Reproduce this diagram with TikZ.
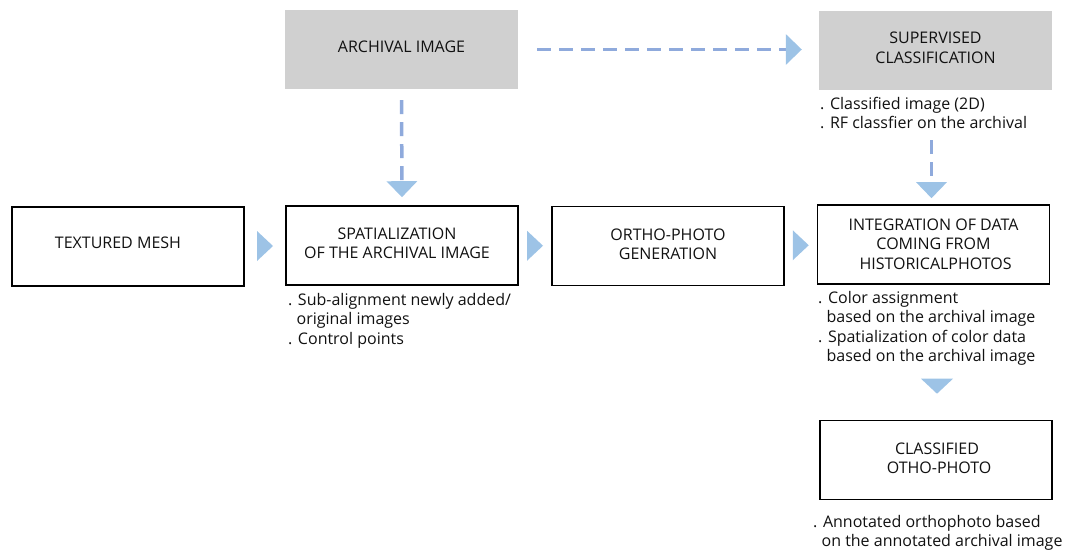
\documentclass[tikz,border=0pt]{standalone}
\usepackage{fontspec}
\setmainfont{Open Sans}
\usetikzlibrary{arrows.meta,calc}
\definecolor{boxgray}{HTML}{D0D0D0}
\definecolor{tipblue}{HTML}{9DC3E6}
\definecolor{dashblue}{HTML}{8FAADC}
\definecolor{txt}{HTML}{111111}
\newcommand{\ind}{\phantom{.\ }}
\begin{document}
\begin{tikzpicture}[x=1pt,y=-1pt,
  every node/.style={font=\fontsize{16}{19.5}\selectfont, text=txt},
  graybox/.style={fill=boxgray, draw=none, minimum width=233pt, minimum height=79pt, inner sep=0pt},
  whitebox/.style={draw=black, line width=1.6pt, fill=white, minimum width=232pt, minimum height=79pt, inner sep=0pt},
  lbl/.style={align=center, inner sep=0pt},
  note/.style={align=left, anchor=north west, inner sep=0pt},
  dashconn/.style={draw=dashblue, line width=3.5pt, dash pattern=on 14pt off 8pt,
    -{Triangle[width=30pt,length=16pt,color=tipblue,fill=tipblue]}},
  tri/.style={fill=tipblue}
]
\useasboundingbox (0,0) rectangle (1066,552);

% boxes
\node[graybox] (archival) at (401.5,49.5) {};
\node[lbl] at (401.5,46.5) {ARCHIVAL IMAGE};
\node[graybox] (supervised) at (935.5,50.5) {};
\node[lbl] at (935.5,48) {SUPERVISED\\CLASSIFICATION};

\node[whitebox] (textured) at (128,246.5) {};
\node[lbl] at (118,242.5) {TEXTURED MESH};
\node[whitebox] (spatial) at (402,245.5) {};
\node[lbl] at (397,243.5) {SPATIALIZATION\\OF THE ARCHIVAL IMAGE};
\node[whitebox] (ortho) at (668,246) {};
\node[lbl] at (668,244.5) {ORTHO-PHOTO\\GENERATION};
\node[whitebox] (integration) at (933.5,244.5) {};
\node[lbl] at (933.5,244) {INTEGRATION OF DATA\\COMING FROM\\\ HISTORICALPHOTOS};
\node[whitebox] (classified) at (936,460) {};
\node[lbl] at (937,458.5) {CLASSIFIED\\\ OTHO-PHOTO};

% dashed connectors
\coordinate (supS) at ([xshift=-4pt]supervised.south);
\draw[dashconn, shorten <=19pt, shorten >=17pt] (archival.east) -- (supervised.west |- archival.east);
\draw[dashconn, shorten <=11pt, shorten >=8pt] (archival.south) -- (spatial.north);
\draw[dashconn, shorten <=50pt, shorten >=6pt] (supS) -- (integration.north -| supS);

% solid triangles
\fill[tri] ($(textured.east)!0.5!(spatial.west)$) +(-8,-15) -- +(8,0) -- +(-8,15) -- cycle;
\fill[tri] ($(spatial.east)!0.5!(ortho.west)$) +(-8,-15) -- +(8,0) -- +(-8,15) -- cycle;
\fill[tri] ($(ortho.east)!0.5!(integration.west)$) +(-8,-15) -- +(8,0) -- +(-8,15) -- cycle;
\fill[tri] (classified.north) +(-15,-41) -- +(17,-41) -- +(1,-26) -- cycle;

% notes
\node[note] (n1) at (820,97) {. Classified image (2D)\\. RF classfier on the archival};
\node[note] (n2) at (288,293) {. Sub-alignment newly added/\\\ind original images\\. Control points};
\node[note] (n3) at (818,291) {. Color assignment\\\ind based on the archival image\\. Spatialization of color data\\\ind based on the archival image};
\node[note] (n4) at (813,515) {. Annotated orthophoto based\\\ind on the annotated archival image};
\end{tikzpicture}
\end{document}
